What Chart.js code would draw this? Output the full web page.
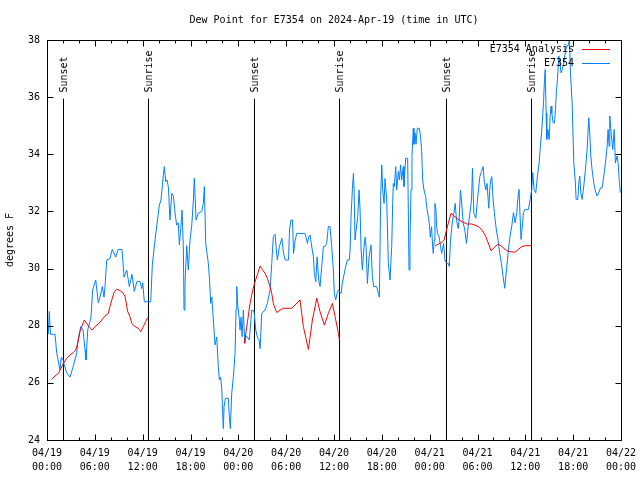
<!DOCTYPE html>
<html>
<head>
<meta charset="utf-8">
<script src="https://cdn.jsdelivr.net/npm/chart.js@4/dist/chart.umd.min.js"></script>
<style>html,body{margin:0;padding:0;background:#fff;}canvas{display:block;}</style>
</head>
<body>
<canvas id="c" width="640" height="480"></canvas>
<script>
const chartTitle = 'Dew Point for E7354 on 2024-Apr-19 (time in UTC)';
const yAxisTitle = 'degrees F';
const seriesNames = ['E7354 Analysis', 'E7354'];
const xTickDates = ['04/19','04/19','04/19','04/19','04/20','04/20','04/20','04/20','04/21','04/21','04/21','04/21','04/22'];
const xTickTimes = ['00:00','06:00','12:00','18:00','00:00','06:00','12:00','18:00','00:00','06:00','12:00','18:00','00:00'];
const sunEventHours = [2.0, 12.67, 26.0, 36.67, 50.07, 60.73];
const sunEventLabels = ['Sunset','Sunrise','Sunset','Sunrise','Sunset','Sunrise'];

// hours since 04/19 00:00 UTC
const analysisHours = [0.59,1.0,1.42,1.76,2.05,2.47,2.89,3.3,3.6,3.85,4.14,4.43,4.68,4.98,5.27,5.68,6.02,6.44,6.86,7.28,7.69,7.9,8.19,8.44,8.75,9.16,9.57,9.79,10.13,10.41,10.63,11.04,11.46,11.76,12.08,12.38,12.63,
  18.0,
  24.76,24.97,25.18,25.47,25.81,26.1,26.44,26.73,27.01,27.35,27.64,27.98,28.19,28.39,28.61,28.82,29.23,29.65,30.7,31.74,32.16,32.79,33.29,33.84,34.25,34.79,35.29,35.8,36.14,36.55,36.68,
  42.0,
  48.68,49.1,49.52,49.81,50.06,50.35,50.69,50.98,51.41,51.82,52.23,52.66,53.29,53.7,54.12,54.54,54.96,55.3,55.71,56.09,56.62,57.05,57.47,57.88,58.34,58.72,59.13,59.56,59.97,60.81];
const analysisValues = [26.12,26.24,26.33,26.51,26.68,26.86,26.98,27.06,27.15,27.38,27.79,28.02,28.2,28.08,27.97,27.85,27.97,28.06,28.2,28.34,28.43,28.67,28.96,29.19,29.28,29.23,29.13,29.02,28.49,28.32,28.08,27.97,27.91,27.79,27.97,28.14,28.29,
  null,
  27.38,27.79,28.2,28.78,29.25,29.54,29.83,30.09,29.97,29.83,29.66,29.37,29.13,28.78,28.61,28.46,28.55,28.61,28.61,28.9,27.97,27.17,28.2,28.96,28.49,28.02,28.43,28.78,28.32,27.73,27.5,
  null,
  30.79,30.86,30.91,31.0,31.29,31.6,31.94,31.86,31.76,31.68,31.62,31.56,31.56,31.52,31.47,31.35,31.17,30.93,30.62,30.74,30.86,30.77,30.67,30.6,30.58,30.58,30.67,30.77,30.8,30.8];

const obsHours = [0.16,0.29,0.44,0.63,1.0,1.22,1.63,1.8,2.01,2.2,2.47,2.89,3.26,3.73,3.89,4.23,4.52,4.77,4.89,5.11,5.52,5.73,6.11,6.44,6.65,6.94,7.15,7.28,7.49,7.9,8.19,8.62,8.91,9.41,9.66,10.0,10.33,10.66,10.95,11.29,11.67,11.88,12.01,12.21,13.01,13.21,13.55,14.09,14.3,14.59,14.72,14.89,15.06,15.22,15.43,15.65,15.85,16.06,16.27,16.47,16.6,16.78,16.94,17.1,17.19,17.31,17.53,17.73,17.94,18.16,18.36,18.48,18.7,18.98,19.41,19.61,19.74,19.91,20.24,20.36,20.54,20.67,20.79,20.95,21.08,21.29,21.49,21.62,21.79,21.92,22.05,22.12,22.21,22.37,22.75,22.87,23.0,23.17,23.38,23.59,23.71,23.8,23.93,24.09,24.22,24.34,24.47,24.63,24.81,24.97,25.13,25.38,25.68,25.97,26.19,26.39,26.6,26.73,26.94,27.35,27.64,27.98,28.19,28.39,28.61,28.77,28.9,29.15,29.46,29.67,29.88,30.3,30.42,30.6,30.8,30.92,31.13,31.33,32.38,32.67,32.83,33.0,33.21,33.42,33.54,33.71,33.88,34.08,34.25,34.46,34.67,34.88,35.08,35.29,35.5,35.71,35.92,36.04,36.21,36.38,36.54,36.88,37.04,37.29,37.46,37.67,37.92,38.02,38.14,38.31,38.44,38.52,38.64,38.77,38.98,39.14,39.27,39.4,39.56,39.73,39.9,40.02,40.19,40.4,40.65,40.81,40.98,41.35,41.57,41.69,41.86,41.99,42.11,42.28,42.4,42.61,42.82,43.03,43.24,43.36,43.44,43.57,43.74,43.86,44.07,44.2,44.36,44.49,44.7,44.78,44.99,45.24,45.41,45.53,45.66,45.78,45.95,46.03,46.16,46.29,46.45,46.7,46.87,47.0,47.12,47.29,47.5,47.62,47.83,47.95,48.08,48.24,48.37,48.45,48.58,48.66,48.79,48.87,49.0,49.2,49.37,49.5,49.62,49.75,49.91,50.12,50.33,50.46,50.62,50.83,51.04,51.2,51.37,51.58,51.7,51.86,51.99,52.2,52.41,52.62,52.83,53.04,53.25,53.37,53.54,53.79,53.95,54.08,54.29,54.5,54.71,54.83,55.04,55.2,55.41,55.54,55.66,55.79,55.96,56.16,56.37,56.58,56.79,57.0,57.21,57.42,57.63,57.84,57.96,58.09,58.3,58.51,58.72,58.93,59.05,59.21,59.34,59.46,59.63,59.76,59.97,60.39,60.6,60.81,60.93,61.1,61.31,61.52,61.73,61.86,62.07,62.28,62.4,62.49,62.61,62.69,62.82,62.99,63.11,63.24,63.32,63.49,63.66,63.78,63.91,64.03,64.2,64.33,64.49,64.62,64.83,64.95,65.16,65.33,65.54,65.66,65.87,66.08,66.28,66.37,66.58,66.71,66.83,66.96,67.12,67.33,67.54,67.75,67.96,68.08,68.21,68.37,68.58,68.79,69.0,69.21,69.42,69.63,69.84,70.05,70.26,70.38,70.51,70.59,70.8,70.97,71.14,71.3,71.51,71.64,71.8,71.93];
const obsValues = [27.7,28.5,27.7,27.7,27.7,27.05,26.45,26.9,26.8,26.6,26.35,26.2,26.55,27.05,27.5,27.97,27.85,27.15,26.8,27.85,28.3,29.25,29.6,28.8,29.0,29.37,29.0,29.37,30.3,30.35,30.67,30.4,30.67,30.67,29.7,29.95,29.37,29.8,29.2,29.55,29.55,29.3,29.5,28.84,28.84,30.12,31.0,32.22,32.4,33.27,33.57,33.04,33.1,32.87,31.7,32.63,32.55,31.94,31.52,31.6,30.83,31.4,32.05,30.77,28.55,29.48,30.8,29.95,31.0,31.52,32.4,33.16,31.7,31.94,32.0,32.28,32.87,30.88,30.18,29.72,28.78,29.0,28.55,27.85,27.33,27.6,26.57,26.1,26.2,25.8,24.82,24.4,25.17,25.46,25.46,24.82,24.4,25.63,26.22,27.03,28.55,29.37,28.7,28.32,27.85,28.3,27.62,28.55,27.38,27.65,27.6,27.5,28.55,28.5,27.85,27.6,27.5,27.2,28.43,28.55,28.78,29.25,30.18,31.12,31.2,30.65,30.3,30.77,31.06,30.53,30.3,30.3,31.35,31.7,31.7,30.53,31.0,31.23,31.23,30.88,31.1,31.17,30.77,30.41,29.83,29.54,30.41,29.6,29.37,30.07,30.77,30.77,30.88,31.47,31.47,30.77,29.95,29.13,28.9,29.13,29.25,29.13,29.48,29.83,30.07,30.3,30.3,30.65,31.82,32.81,33.33,32.75,31.0,31.35,31.82,32.75,32.05,30.65,29.95,30.65,31.1,30.77,29.48,30.41,30.83,29.71,29.37,29.37,29.13,29.0,32.52,33.63,32.75,32.28,33.15,32.4,30.18,29.6,30.77,32.28,32.98,32.87,33.57,32.75,33.4,33.1,33.63,33.1,33.57,32.87,33.86,33.86,29.95,30.88,32.75,33.92,34.91,34.35,34.75,34.35,34.91,34.91,34.6,34.09,33.1,32.75,32.52,32.17,31.82,31.6,31.1,31.47,30.77,30.53,31.0,32.28,32.05,31.47,31.23,31.1,30.77,30.53,30.7,30.88,30.3,30.18,30.18,30.07,31.0,31.6,31.94,32.28,31.7,31.4,31.7,32.75,32.4,31.6,31.35,30.88,31.47,31.94,32.4,33.51,31.94,31.76,32.28,32.63,33.22,33.4,33.57,33.1,32.75,32.98,32.11,32.75,33.1,33.22,32.4,31.82,31.35,31.0,30.53,30.18,29.72,29.31,29.95,30.53,30.88,31.14,31.49,31.96,31.6,31.96,32.42,32.77,31.84,31.02,31.49,31.96,32.07,32.07,32.42,32.77,33.36,32.77,32.65,33.24,33.7,34.17,34.87,35.8,36.62,36.97,35.45,34.52,34.87,34.52,35.33,35.69,35.45,35.1,35.1,35.57,36.27,36.62,37.44,37.2,36.85,36.97,37.2,37.44,37.79,37.79,38.0,36.85,35.8,33.7,33.0,32.42,32.42,33.0,33.24,32.65,32.42,32.89,33.47,34.17,35.28,34.75,33.94,33.47,33.0,32.71,32.54,32.65,32.82,32.82,33.24,33.7,34.28,34.87,34.28,35.34,34.64,34.17,34.87,33.7,33.94,33.7,33.0,32.66];

const FONT = 'DejaVu Sans Mono';
const RED = '#ff0000';
const BLUE = '#0080ff';

const toPoints = (hs, vs) => hs.map((h, i) => ({x: h, y: vs[i]}));

const decorPlugin = {
  id: 'decor',
  beforeDatasetsDraw(chart) {
    const {ctx, chartArea: a, scales: {x, y}} = chart;
    ctx.save();
    ctx.strokeStyle = '#000';
    ctx.lineWidth = 1;
    ctx.fillStyle = '#000';
    ctx.font = '10px "' + FONT + '"';
    sunEventHours.forEach((h, i) => {
      const px = Math.round(x.getPixelForValue(h)) + 0.5;
      const top = y.getPixelForValue(35.95);
      ctx.beginPath();
      ctx.moveTo(px, a.bottom);
      ctx.lineTo(px, top);
      ctx.stroke();
      ctx.save();
      ctx.translate(px + 1, top - 6);
      ctx.rotate(-Math.PI / 2);
      ctx.textAlign = 'left';
      ctx.textBaseline = 'middle';
      ctx.fillText(sunEventLabels[i], 0, 0);
      ctx.restore();
    });
    ctx.restore();
  },
  afterDatasetsDraw(chart) {
    const {ctx, chartArea: a, scales: {x, y}} = chart;
    ctx.save();
    ctx.strokeStyle = '#000';
    ctx.lineWidth = 1;
    const L = Math.round(a.left) + 0.5, R = Math.round(a.right) + 0.5;
    const T = Math.round(a.top) + 0.5, B = Math.round(a.bottom) + 0.5;
    ctx.strokeRect(L, T, R - L, B - T);
    ctx.beginPath();
    for (let v = x.min; v <= x.max; v += 2) {
      const px = Math.round(x.getPixelForValue(v)) + 0.5;
      const len = (v % 6 === 0) ? 6 : 3;
      ctx.moveTo(px, B); ctx.lineTo(px, B - len);
      ctx.moveTo(px, T); ctx.lineTo(px, T + len);
    }
    for (let v = y.min; v <= y.max; v += 2) {
      const py = Math.round(y.getPixelForValue(v)) + 0.5;
      ctx.moveTo(L, py); ctx.lineTo(L + 6, py);
      ctx.moveTo(R, py); ctx.lineTo(R - 6, py);
    }
    ctx.stroke();

    ctx.fillStyle = '#000';
    ctx.font = '10px "' + FONT + '"';
    ctx.textAlign = 'center';
    ctx.textBaseline = 'middle';
    ctx.fillText(chartTitle, (a.left + a.right) / 2, 20);

    const colors = [RED, BLUE];
    ctx.textAlign = 'right';
    seriesNames.forEach((n, i) => {
      const ly = a.top + 9 + i * 14;
      ctx.fillStyle = '#000';
      ctx.fillText(n, a.right - 47, ly);
      ctx.strokeStyle = colors[i];
      ctx.beginPath();
      ctx.moveTo(a.right - 39, Math.round(ly) + 0.5);
      ctx.lineTo(a.right - 11, Math.round(ly) + 0.5);
      ctx.stroke();
    });
    ctx.restore();
  }
};

new Chart(document.getElementById('c'), {
  type: 'line',
  data: {
    datasets: [
      {label: seriesNames[0], data: toPoints(analysisHours, analysisValues), borderColor: RED, borderWidth: 1, pointRadius: 0, tension: 0, spanGaps: false, fill: false},
      {label: seriesNames[1], data: toPoints(obsHours, obsValues), borderColor: BLUE, borderWidth: 1, pointRadius: 0, tension: 0, fill: false}
    ]
  },
  options: {
    responsive: false,
    animation: false,
    devicePixelRatio: 1,
    layout: {padding: {top: 40, right: 19, bottom: 0, left: 0}},
    plugins: {legend: {display: false}, title: {display: false}, tooltip: {enabled: false}},
    scales: {
      x: {
        type: 'linear', min: 0, max: 72,
        afterFit: s => { s.height = 40; s.paddingRight = 0; s.paddingLeft = 0; },
        grid: {display: false, drawTicks: false},
        border: {display: false},
        ticks: {
          stepSize: 6, autoSkip: false, maxRotation: 0, padding: 6, color: '#000',
          font: {family: FONT, size: 10, lineHeight: 1.4},
          callback: (v, i) => [xTickDates[i], xTickTimes[i]]
        }
      },
      y: {
        min: 24, max: 38,
        afterFit: s => { s.width = 47; s.paddingTop = 0; s.paddingBottom = 0; },
        grid: {display: false, drawTicks: false},
        border: {display: false},
        ticks: {stepSize: 2, padding: 7, color: '#000', font: {family: FONT, size: 10}},
        title: {display: true, text: yAxisTitle, color: '#000', font: {family: FONT, size: 10}, padding: {top: 4, bottom: 4}}
      }
    }
  },
  plugins: [decorPlugin]
});
</script>
</body>
</html>
